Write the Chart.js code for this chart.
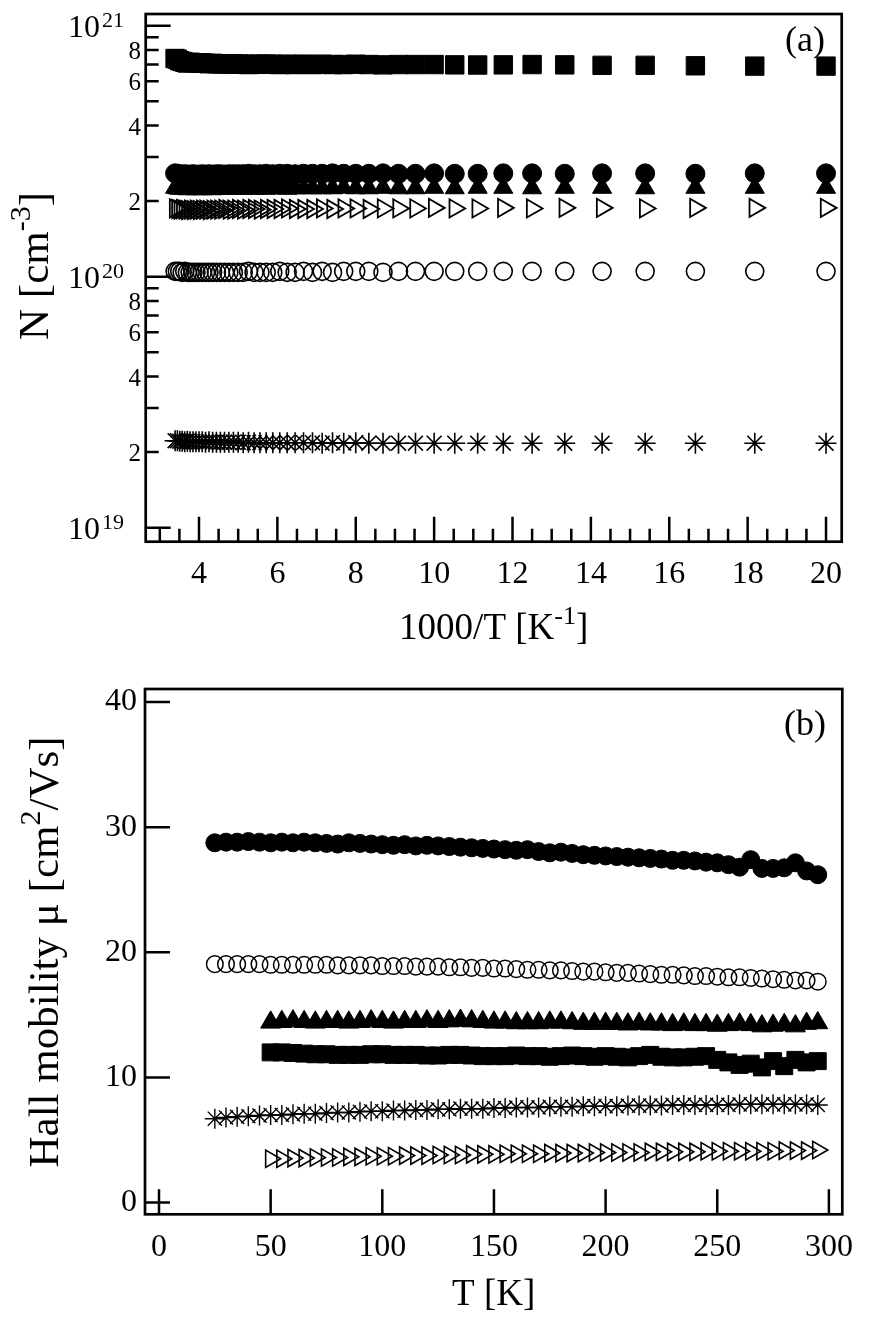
<!DOCTYPE html>
<html>
<head>
<meta charset="utf-8">
<script src="https://cdn.jsdelivr.net/npm/chart.js@4.4.1/dist/chart.umd.min.js"></script>
<style>
  html, body { margin: 0; padding: 0; background: #fff; }
  canvas { display: block; }
</style>
</head>
<body>
<canvas id="densityChart" width="870" height="650"></canvas>
<canvas id="mobilityChart" width="870" height="673"></canvas>
<script>
// measurement temperatures (K)
const tempA = [50, 55, 60, 65, 70, 75, 80, 85, 90, 95, 100, 105, 110, 115, 120, 125, 130, 135, 140, 145,
  150, 155, 160, 165, 170, 175, 180, 185, 190, 195, 200, 205, 210, 215, 220, 225, 230, 235, 240, 245,
  250, 255, 260, 265, 270, 275, 280, 285, 290, 295];
const tempB = [25, 30, 35, 40, 45, 50, 55, 60, 65, 70, 75, 80, 85, 90, 95, 100, 105, 110, 115, 120,
  125, 130, 135, 140, 145, 150, 155, 160, 165, 170, 175, 180, 185, 190, 195, 200, 205, 210, 215, 220,
  225, 230, 235, 240, 245, 250, 255, 260, 265, 270, 275, 280, 285, 290, 295];

// (a) carrier density, in units of 1e20 cm^-3, for tempA
const nSquare = [6.90, 6.90, 6.92, 6.95, 6.95, 6.98, 7.00, 6.98, 6.97, 6.98,
  7.00, 7.00, 7.00, 6.98, 7.00, 7.02, 7.00, 7.00, 7.02, 7.00,
  7.02, 7.00, 7.02, 7.00, 7.02, 7.03, 7.02, 7.02, 7.00, 7.02,
  7.03, 7.05, 7.03, 7.05, 7.05, 7.05, 7.08, 7.05, 7.08, 7.10,
  7.10, 7.12, 7.12, 7.15, 7.10, 7.15, 7.20, 7.25, 7.35, 7.40];
const nCircle = [2.58, 2.58, 2.57, 2.58, 2.58, 2.57, 2.58, 2.58, 2.57, 2.57,
  2.58, 2.57, 2.57, 2.58, 2.57, 2.57, 2.57, 2.58, 2.57, 2.57,
  2.57, 2.56, 2.57, 2.57, 2.56, 2.57, 2.56, 2.56, 2.57, 2.56,
  2.56, 2.56, 2.56, 2.55, 2.56, 2.56, 2.55, 2.56, 2.55, 2.56,
  2.55, 2.55, 2.56, 2.55, 2.55, 2.56, 2.55, 2.56, 2.57, 2.58];
const nTriangle = [2.26, 2.26, 2.26, 2.25, 2.26, 2.26, 2.25, 2.26, 2.26, 2.25,
  2.26, 2.25, 2.25, 2.26, 2.25, 2.25, 2.26, 2.25, 2.25, 2.25,
  2.25, 2.25, 2.24, 2.25, 2.25, 2.24, 2.25, 2.24, 2.25, 2.24,
  2.24, 2.24, 2.25, 2.24, 2.24, 2.24, 2.23, 2.24, 2.24, 2.23,
  2.24, 2.23, 2.24, 2.24, 2.23, 2.24, 2.25, 2.24, 2.25, 2.26];
const nOpenTri = [1.88, 1.88, 1.88, 1.87, 1.88, 1.88, 1.87, 1.88, 1.87, 1.87,
  1.88, 1.87, 1.87, 1.87, 1.86, 1.87, 1.87, 1.86, 1.87, 1.86,
  1.86, 1.86, 1.87, 1.86, 1.86, 1.86, 1.85, 1.86, 1.86, 1.85,
  1.86, 1.85, 1.85, 1.86, 1.85, 1.85, 1.85, 1.84, 1.85, 1.85,
  1.84, 1.85, 1.84, 1.85, 1.84, 1.85, 1.86, 1.85, 1.86, 1.87];
const nOpenCircle = [1.05, 1.05, 1.05, 1.05, 1.05, 1.05, 1.05, 1.05, 1.05, 1.05,
  1.05, 1.05, 1.05, 1.04, 1.05, 1.05, 1.05, 1.04, 1.05, 1.04,
  1.05, 1.04, 1.04, 1.05, 1.04, 1.04, 1.04, 1.04, 1.05, 1.04,
  1.04, 1.04, 1.04, 1.04, 1.04, 1.04, 1.04, 1.04, 1.04, 1.04,
  1.04, 1.04, 1.04, 1.04, 1.04, 1.05, 1.04, 1.05, 1.05, 1.05];
const nStar = [0.217, 0.217, 0.217, 0.217, 0.217, 0.217, 0.217, 0.217, 0.217, 0.217,
  0.217, 0.217, 0.217, 0.217, 0.217, 0.218, 0.217, 0.218, 0.217, 0.218,
  0.218, 0.218, 0.218, 0.218, 0.218, 0.218, 0.218, 0.218, 0.219, 0.218,
  0.219, 0.219, 0.219, 0.219, 0.219, 0.219, 0.219, 0.220, 0.219, 0.220,
  0.220, 0.220, 0.220, 0.220, 0.221, 0.220, 0.221, 0.221, 0.222, 0.222];

// (b) Hall mobility, cm^2/Vs
const muCircle = [28.75, 28.8, 28.8, 28.85, 28.8, 28.75, 28.8, 28.75, 28.8, 28.75,
  28.7, 28.65, 28.75, 28.7, 28.65, 28.6, 28.55, 28.6, 28.5, 28.55,
  28.5, 28.45, 28.4, 28.35, 28.3, 28.25, 28.2, 28.15, 28.2, 28.05,
  27.95, 28.0, 27.9, 27.8, 27.75, 27.7, 27.65, 27.6, 27.55, 27.5,
  27.45, 27.35, 27.35, 27.3, 27.2, 27.15, 27.0, 26.8, 27.4, 26.7,
  26.7, 26.75, 27.15, 26.5, 26.2];
const muOpenCircle = [19.05, 19.05, 19.05, 19.05, 19.05, 19.0, 19.0, 19.0, 19.0, 19.0,
  19.0, 18.95, 18.95, 18.95, 18.95, 18.9, 18.9, 18.9, 18.85, 18.85,
  18.85, 18.8, 18.8, 18.75, 18.75, 18.7, 18.7, 18.65, 18.6, 18.6,
  18.55, 18.55, 18.5, 18.45, 18.45, 18.4, 18.35, 18.35, 18.3, 18.25,
  18.2, 18.2, 18.15, 18.1, 18.1, 18.05, 18.0, 18.0, 17.95, 17.9,
  17.85, 17.8, 17.75, 17.75, 17.65];
const muStar = [6.7, 6.8, 6.85, 6.9, 6.95, 7.0, 7.0, 7.05, 7.1, 7.1,
  7.15, 7.2, 7.2, 7.25, 7.3, 7.3, 7.35, 7.35, 7.4, 7.4,
  7.45, 7.45, 7.5, 7.5, 7.5, 7.55, 7.55, 7.6, 7.6, 7.6,
  7.65, 7.65, 7.65, 7.7, 7.7, 7.7, 7.7, 7.75, 7.75, 7.75,
  7.75, 7.8, 7.8, 7.8, 7.8, 7.8, 7.8, 7.85, 7.85, 7.85,
  7.85, 7.85, 7.85, 7.85, 7.8];
const muTriangle = [14.4, 14.45, 14.5, 14.45, 14.4, 14.45, 14.45, 14.4, 14.45, 14.5,
  14.45, 14.4, 14.45, 14.45, 14.5, 14.45, 14.5, 14.55, 14.5, 14.45,
  14.4, 14.4, 14.35, 14.35, 14.35, 14.4, 14.4, 14.35, 14.3, 14.3,
  14.3, 14.3, 14.25, 14.3, 14.25, 14.25, 14.2, 14.25, 14.2, 14.2,
  14.15, 14.2, 14.25, 14.2, 14.1, 14.15, 14.2, 14.1, 14.3, 14.35];
const muSquare = [12.0, 12.0, 11.95, 11.9, 11.85, 11.85, 11.8, 11.8, 11.8, 11.85,
  11.85, 11.8, 11.8, 11.8, 11.75, 11.75, 11.8, 11.8, 11.75, 11.7,
  11.7, 11.7, 11.75, 11.7, 11.7, 11.65, 11.7, 11.75, 11.7, 11.65,
  11.7, 11.65, 11.6, 11.7, 11.8, 11.65, 11.6, 11.6, 11.65, 11.7,
  11.4, 11.2, 11.0, 11.1, 10.8, 11.3, 10.9, 11.4, 11.2, 11.3];
const muOpenTri = [3.5, 3.5, 3.55, 3.55, 3.6, 3.6, 3.6, 3.65, 3.65, 3.7,
  3.7, 3.7, 3.75, 3.75, 3.75, 3.8, 3.8, 3.8, 3.85, 3.85,
  3.85, 3.9, 3.9, 3.9, 3.9, 3.95, 3.95, 3.95, 3.95, 4.0,
  4.0, 4.0, 4.0, 4.0, 4.05, 4.05, 4.05, 4.05, 4.05, 4.1,
  4.1, 4.1, 4.1, 4.1, 4.1, 4.1, 4.15, 4.15, 4.15, 4.2];

// tick values
const xTicksA = [4, 6, 8, 10, 12, 14, 16, 18, 20];
const yDecadesA = [1e19, 1e20, 1e21];
const yMinorLabelsA = [2, 4, 6, 8];
const xTicksB = [0, 50, 100, 150, 200, 250, 300];
const yTicksB = [0, 10, 20, 30, 40];

const FONT = '"Liberation Serif", "Times New Roman", serif';

// text with superscript parts, centred on (x, y)
function richText(ctx, parts, x, y, size, rotate) {
  const supSize = Math.round(size * 0.7);
  let total = 0;
  const widths = parts.map(p => {
    ctx.font = (p.sup ? supSize : size) + 'px ' + FONT;
    const w = ctx.measureText(p.t).width;
    total += w;
    return w;
  });
  ctx.save();
  ctx.translate(x, y);
  if (rotate) ctx.rotate(-Math.PI / 2);
  ctx.textAlign = 'left';
  ctx.textBaseline = 'alphabetic';
  let cx = -total / 2;
  const base = size * 0.33;
  parts.forEach((p, i) => {
    ctx.font = (p.sup ? supSize : size) + 'px ' + FONT;
    ctx.fillText(p.t, cx, p.sup ? base - size * 0.42 : base);
    cx += widths[i];
  });
  ctx.restore();
}

// box, inward ticks, titles
const framePlugin = {
  id: 'frame',
  afterDraw(chart, args, opts) {
    const { ctx, chartArea: a, scales } = chart;
    ctx.save();
    ctx.strokeStyle = '#000';
    ctx.fillStyle = '#000';
    ctx.lineWidth = 2.5;
    ctx.beginPath();
    opts.xTicks.forEach(t => {
      const px = scales.x.getPixelForValue(t.v);
      ctx.moveTo(px, a.bottom);
      ctx.lineTo(px, a.bottom - t.len);
    });
    opts.yTicks.forEach(t => {
      const py = scales.y.getPixelForValue(t.v);
      ctx.moveTo(a.left, py);
      ctx.lineTo(a.left + t.len, py);
    });
    ctx.stroke();
    ctx.lineWidth = 2.7;
    ctx.strokeRect(a.left, a.top, a.right - a.left, a.bottom - a.top);

    if (opts.logLabels) {
      ctx.textBaseline = 'alphabetic';
      yDecadesA.forEach(v => {
        const py = scales.y.getPixelForValue(v);
        ctx.font = '32px ' + FONT;
        ctx.textAlign = 'right';
        ctx.fillText('10', 100, py + 11.5);
        ctx.font = '22px ' + FONT;
        ctx.textAlign = 'left';
        ctx.fillText(String(Math.round(Math.log10(v))), 102, py + 1);
      });
      ctx.font = '25px ' + FONT;
      ctx.textAlign = 'right';
      [1e19, 1e20].forEach(d => {
        yMinorLabelsA.forEach(m => {
          const py = scales.y.getPixelForValue(m * d);
          ctx.fillText(String(m), 141, py + 9);
        });
      });
    }

    const midX = (a.left + a.right) / 2;
    richText(ctx, opts.xTitle, midX, opts.xTitleY, 37, false);
    richText(ctx, opts.yTitle, opts.yTitleX, opts.yTitleY, 43, true);
    ctx.font = '36px ' + FONT;
    ctx.textAlign = 'center';
    ctx.textBaseline = 'middle';
    ctx.fillText(opts.tag, 805, opts.tagY);
    ctx.restore();
  }
};

function series(xs, ys, style) {
  return Object.assign({
    data: xs.map((x, i) => ({ x: x, y: ys[i] })),
    showLine: false,
    pointBorderColor: '#000'
  }, style);
}

const filled = r => ({ pointRadius: r, pointBackgroundColor: '#000', pointBorderWidth: 1 });
const hollow = (r, w) => ({ pointRadius: r, pointBackgroundColor: 'rgba(0,0,0,0)', pointBorderWidth: w });

// (a) N vs 1000/T
const invT = tempA.map(t => 1000 / t);
const e20 = arr => arr.map(v => v * 1e20);

const xMinorA = [];
for (let v = 3; v <= 20; v += 0.5) if (!xTicksA.includes(v)) xMinorA.push(v);
const yMinorA = [];
[1e19, 1e20].forEach(d => { for (let m = 2; m <= 9; m++) yMinorA.push(m * d); });

new Chart(document.getElementById('densityChart'), {
  type: 'scatter',
  data: {
    datasets: [
      series(invT, e20(nCircle), Object.assign({ pointStyle: 'circle' }, filled(9.5))),
      series(invT, e20(nTriangle), Object.assign({ pointStyle: 'triangle' }, filled(11))),
      series(invT, e20(nSquare), Object.assign({ pointStyle: 'rect' }, filled(13))),
      series(invT, e20(nOpenTri), Object.assign({ pointStyle: 'triangle', pointRotation: 90 }, hollow(10.5, 1.8))),
      series(invT, e20(nOpenCircle), Object.assign({ pointStyle: 'circle' }, hollow(9, 1.6))),
      series(invT, e20(nStar), Object.assign({ pointStyle: 'star' }, hollow(10.5, 1.6)))
    ]
  },
  options: {
    responsive: false,
    animation: false,
    events: [],
    layout: { padding: { top: 13.3, right: 28.3, left: 0, bottom: 0 } },
    scales: {
      x: {
        type: 'linear',
        min: 2.64,
        max: 20.4,
        afterBuildTicks: s => { s.ticks = xTicksA.map(v => ({ value: v })); },
        afterFit: s => { s.height = 108.3; },
        grid: { display: false, drawTicks: false },
        border: { display: false },
        ticks: { color: '#000', padding: 14, font: { family: FONT, size: 32 } }
      },
      y: {
        type: 'logarithmic',
        min: 8.79e18,
        max: 1.113e21,
        afterFit: s => { s.width = 145.7; },
        grid: { display: false, drawTicks: false },
        border: { display: false },
        ticks: { display: false }
      }
    },
    plugins: {
      legend: { display: false },
      tooltip: { enabled: false },
      frame: {
        xTicks: xTicksA.map(v => ({ v: v, len: 25 })).concat(xMinorA.map(v => ({ v: v, len: 13 }))),
        yTicks: yDecadesA.map(v => ({ v: v, len: 25 })).concat(yMinorA.map(v => ({ v: v, len: 13 }))),
        logLabels: true,
        xTitle: [{ t: '1000/T [K' }, { t: '-1', sup: true }, { t: ']' }],
        xTitleY: 627,
        yTitle: [{ t: 'N [cm' }, { t: '-3', sup: true }, { t: ']' }],
        yTitleX: 34,
        yTitleY: 266,
        tag: '(a)',
        tagY: 42
      }
    }
  },
  plugins: [framePlugin]
});

// (b) mobility vs T
new Chart(document.getElementById('mobilityChart'), {
  type: 'scatter',
  data: {
    datasets: [
      series(tempB, muCircle, Object.assign({ pointStyle: 'circle' }, filled(9))),
      series(tempB, muOpenCircle, Object.assign({ pointStyle: 'circle' }, hollow(8.3, 1.5))),
      series(tempA, muTriangle, Object.assign({ pointStyle: 'triangle' }, filled(11.5))),
      series(tempA, muSquare, Object.assign({ pointStyle: 'rect' }, filled(12))),
      series(tempB, muStar, Object.assign({ pointStyle: 'star' }, hollow(10, 1.4))),
      series(tempA, muOpenTri, Object.assign({ pointStyle: 'triangle', pointRotation: 90 }, hollow(10, 1.6)))
    ]
  },
  options: {
    responsive: false,
    animation: false,
    events: [],
    layout: { padding: { top: 39, right: 27.7, left: 0, bottom: 0 } },
    scales: {
      x: {
        type: 'linear',
        min: -6.27,
        max: 306,
        afterBuildTicks: s => { s.ticks = xTicksB.map(v => ({ value: v })); },
        afterFit: s => { s.height = 108.7; },
        grid: { display: false, drawTicks: false },
        border: { display: false },
        ticks: { color: '#000', padding: 14, font: { family: FONT, size: 32 } }
      },
      y: {
        type: 'linear',
        min: -0.94,
        max: 41.04,
        afterBuildTicks: s => { s.ticks = yTicksB.map(v => ({ value: v })); },
        afterFit: s => { s.width = 145; },
        grid: { display: false, drawTicks: false },
        border: { display: false },
        ticks: { color: '#000', padding: 8, font: { family: FONT, size: 32 } }
      }
    },
    plugins: {
      legend: { display: false },
      tooltip: { enabled: false },
      frame: {
        xTicks: xTicksB.map(v => ({ v: v, len: 25 })),
        yTicks: yTicksB.map(v => ({ v: v, len: 25 })),
        logLabels: false,
        xTitle: [{ t: 'T [K]' }],
        xTitleY: 643,
        yTitle: [{ t: 'Hall mobility μ [cm' }, { t: '2', sup: true }, { t: '/Vs]' }],
        yTitleX: 44,
        yTitleY: 302,
        tag: '(b)',
        tagY: 76
      }
    }
  },
  plugins: [framePlugin]
});
</script>
</body>
</html>
